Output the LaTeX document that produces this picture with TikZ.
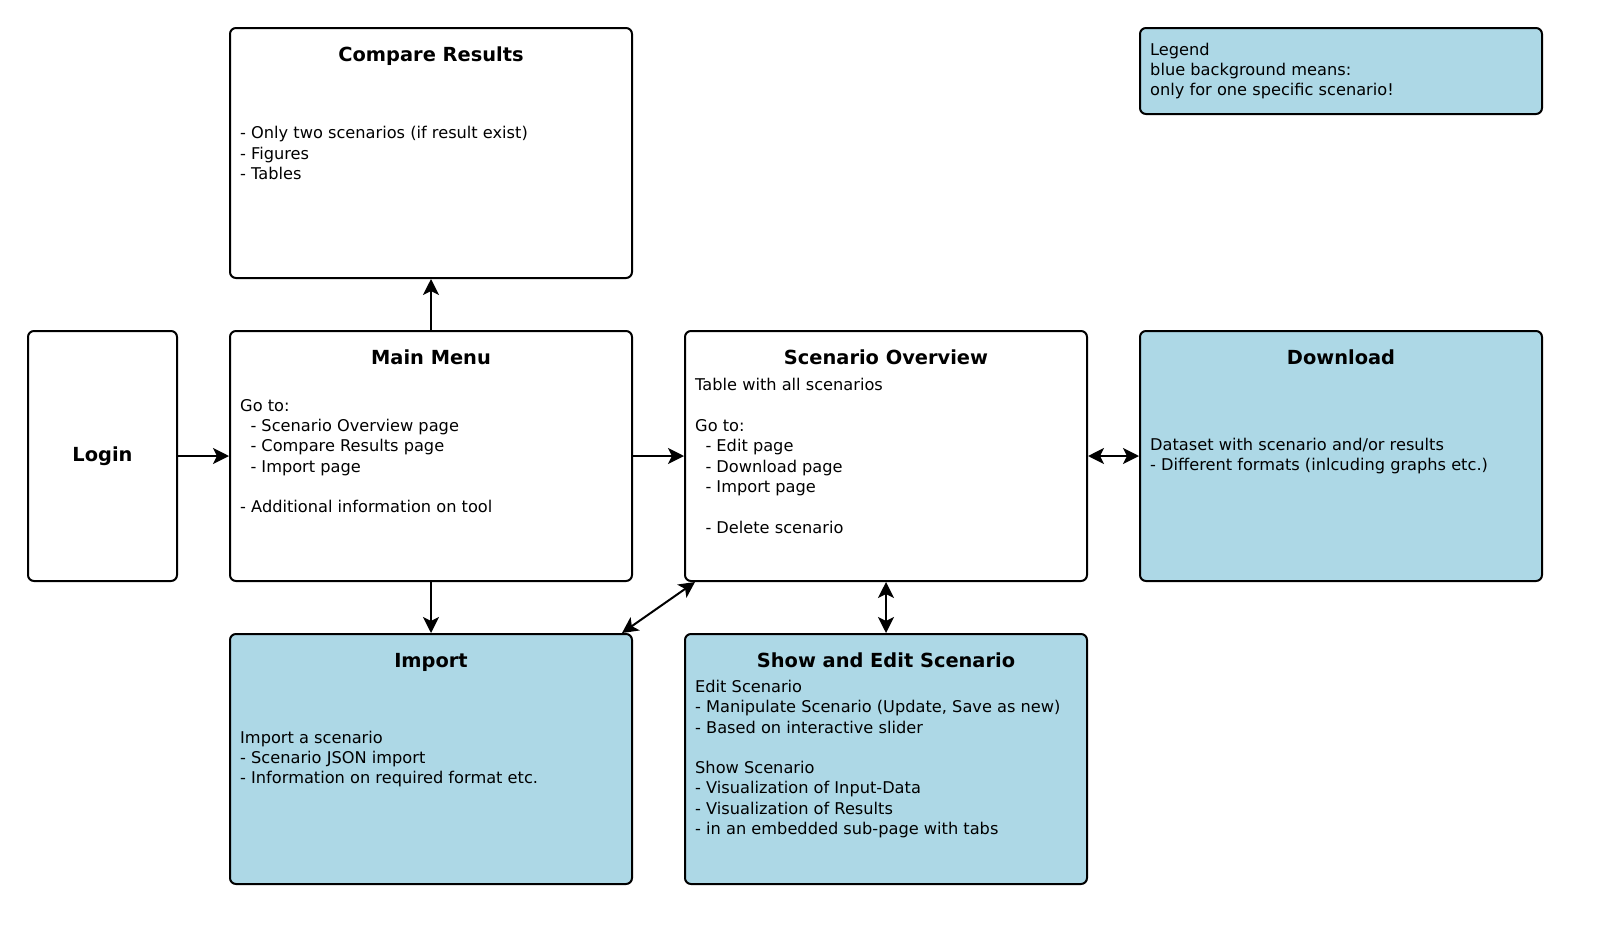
\documentclass[tikz,border=0pt]{standalone}
\usepackage{fontspec}
\setmainfont{DejaVu Sans}
\usetikzlibrary{arrows.meta}
\newcommand{\indt}{\hspace*{10.3pt}}

\begin{document}
\begin{tikzpicture}[x=1pt,y=-1pt,
	page/.style={draw, line width=2pt, rounded corners=6pt, minimum width=402pt, minimum height=250pt, inner sep=0pt},
	pagetitle/.style={anchor=base, inner sep=0pt, font=\fontsize{19.4}{23}\selectfont\bfseries},
	pagetext/.style={anchor=west, align=left, inner sep=0pt, font=\fontsize{16.2}{20.3}\selectfont},
	link/.style={line width=2pt, -{Stealth[length=16pt,width=16pt,inset=4pt]}},
	twoway/.style={line width=2pt, {Stealth[length=16pt,width=16pt,inset=4pt]}-{Stealth[length=16pt,width=16pt,inset=4pt]}}]
	\definecolor{scenarioblue}{RGB}{173,216,230}
	
	\useasboundingbox (0,0) rectangle (1600,929);
	
	\node[page] (compare) at (431,153) {};
	\node[page, minimum width=149pt, font=\fontsize{19.4}{23}\selectfont\bfseries] (login) at (102.5,456) {Login};
	\node[page] (menu) at (431,456) {};
	\node[page] (overview) at (886,456) {};
	\node[page, fill=scenarioblue] (download) at (1341,456) {};
	\node[page, fill=scenarioblue, minimum height=86pt] (legend) at (1341,71) {};
	\node[page, fill=scenarioblue] (import) at (431,759) {};
	\node[page, fill=scenarioblue] (edit) at (886,759) {};
	
	\node[pagetitle] at ([yshift=-34pt]compare.north) {Compare Results};
	\node[pagetitle] at ([yshift=-34pt]menu.north) {Main Menu};
	\node[pagetitle] at ([yshift=-34pt]overview.north) {Scenario Overview};
	\node[pagetitle] at ([yshift=-34pt]download.north) {Download};
	\node[pagetitle] at ([yshift=-34pt]import.north) {Import};
	\node[pagetitle] at ([yshift=-34pt]edit.north) {Show and Edit Scenario};
	
	\node[pagetext] at ([xshift=11pt]legend.west) {Legend\\blue background means:\\only for one specific scenario!};
	\node[pagetext] at ([xshift=11pt]compare.west) {- Only two scenarios (if result exist)\\- Figures\\- Tables};
	\node[pagetext] at ([xshift=11pt]menu.west) {Go to:\\\indt- Scenario Overview page\\\indt- Compare Results page\\\indt- Import page\\[20.3pt]- Additional information on tool};
	\node[pagetext] at ([xshift=11pt]overview.west) {Table with all scenarios\\[20.3pt]Go to:\\\indt- Edit page\\\indt- Download page\\\indt- Import page\\[20.3pt]\indt- Delete scenario};
	\node[pagetext] at ([xshift=11pt]download.west) {Dataset with scenario and/or results\\- Different formats (inlcuding graphs etc.)};
	\node[pagetext] at ([xshift=11pt]import.west) {Import a scenario\\- Scenario JSON import\\- Information on required format etc.};
	\node[pagetext] at ([xshift=11pt]edit.west) {Edit Scenario\\- Manipulate Scenario (Update, Save as new)\\- Based on interactive slider\\[20.3pt]Show Scenario\\- Visualization of Input-Data\\- Visualization of Results\\- in an embedded sub-page with tabs};
	
	\draw[link] (login) -- (menu);
	\draw[link] (menu) -- (compare);
	\draw[link] (menu) -- (overview);
	\draw[link] (menu) -- (import);
	\draw[twoway] (overview) -- (download);
	\draw[twoway] (overview) -- (edit);
	\draw[twoway] ([xshift=-11pt]import.north east) -- ([xshift=11pt]overview.south west);
	
\end{tikzpicture}
\end{document}
